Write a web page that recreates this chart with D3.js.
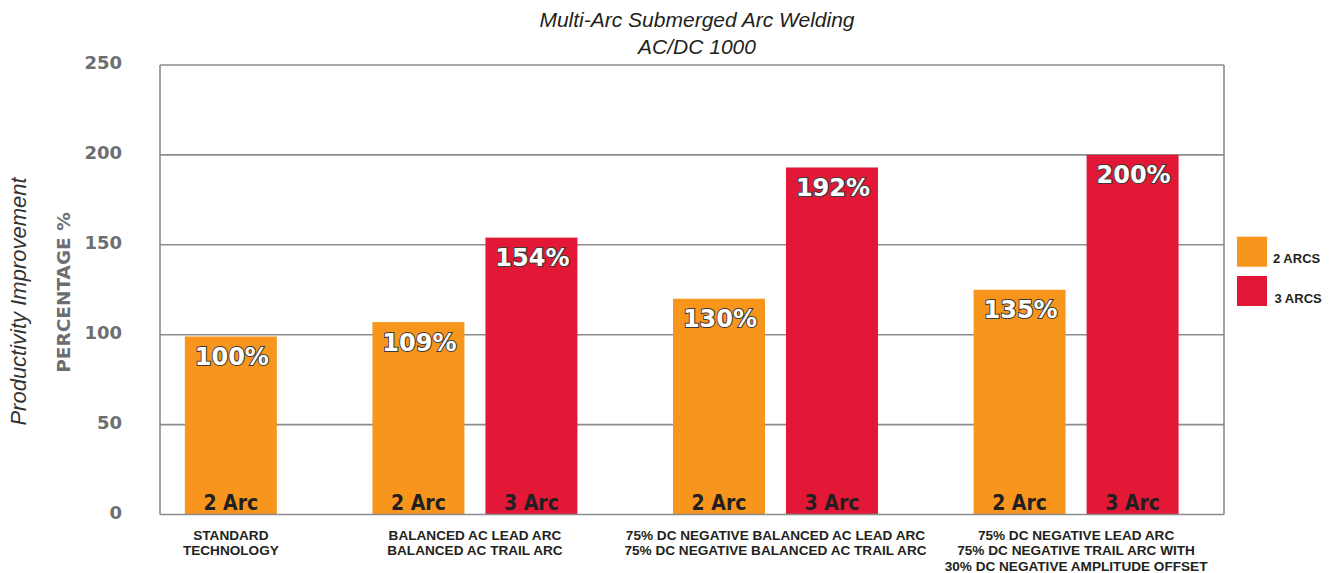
<!DOCTYPE html>
<html>
<head>
<meta charset="utf-8">
<script src="https://cdn.jsdelivr.net/npm/d3@7"></script>
<style>
  html, body { margin: 0; padding: 0; background: #fff; }
  svg { display: block; }
</style>
</head>
<body>
<svg id="chart" width="1333" height="573"></svg>
<script>
// ---- data ----
const titleLines = ["Multi-Arc Submerged Arc Welding", "AC/DC 1000"];
const categories = [
  ["STANDARD", "TECHNOLOGY"],
  ["BALANCED AC LEAD ARC", "BALANCED AC TRAIL ARC"],
  ["75% DC NEGATIVE BALANCED AC LEAD ARC", "75% DC NEGATIVE BALANCED AC TRAIL ARC"],
  ["75% DC NEGATIVE LEAD ARC", "75% DC NEGATIVE TRAIL ARC WITH", "30% DC NEGATIVE AMPLITUDE OFFSET"]
];
const seriesNames = ["2 ARCS", "3 ARCS"];
const barTags = ["2 Arc", "3 Arc"];
const twoArcValues = [99, 107, 120, 125];
const threeArcValues = [null, 154, 193, 200];
const twoArcLabels = ["100%", "109%", "130%", "135%"];
const threeArcLabels = [null, "154%", "192%", "200%"];
const yTicks = [0, 50, 100, 150, 200, 250];
const yTitle = "PERCENTAGE %";
const yOuterTitle = "Productivity Improvement";
const colors = ["#F7951D", "#E21836"];

// ---- layout ----
const svg = d3.select("#chart");
const plot = { left: 160, right: 1224, top: 65, bottom: 514.5 };
const groupGap = 0.66;     // extra slot units between groups
const barUnits = 0.814;    // bar width in slot units

const y = d3.scaleLinear().domain([0, 250]).range([plot.bottom, plot.top]);
const x = d3.scaleLinear().domain([-0.22, 9.196]).range([plot.left, plot.right]);

// build bars with slot positions
const bars = [];
const groups = [];
let cursor = 0;
categories.forEach((cat, gi) => {
  const vals = [twoArcValues[gi], threeArcValues[gi]];
  const labs = [twoArcLabels[gi], threeArcLabels[gi]];
  const gBars = [];
  vals.forEach((v, si) => {
    if (v == null) return;
    const b = { group: gi, series: si, value: v, label: labs[si], slot: cursor };
    bars.push(b); gBars.push(b);
    cursor += 1;
  });
  groups.push({ cat, start: gBars[0].slot, end: gBars[gBars.length - 1].slot + barUnits });
  cursor += groupGap;
});

// gridlines
svg.append("g").selectAll("line").data(yTicks.filter(t => t > 0)).join("line")
  .attr("x1", plot.left).attr("x2", plot.right)
  .attr("y1", d => y(d)).attr("y2", d => y(d))
  .attr("stroke", "#8c8c8c").attr("stroke-width", 1.6);

// frame: left, right
const frame = svg.append("g").attr("stroke", "#8c8c8c").attr("stroke-width", 1.6);
frame.append("line").attr("x1", plot.left).attr("x2", plot.left).attr("y1", y(250)).attr("y2", y(0));
frame.append("line").attr("x1", plot.right).attr("x2", plot.right).attr("y1", y(250)).attr("y2", y(0));

// bars
svg.append("g").selectAll("rect").data(bars).join("rect")
  .attr("x", d => x(d.slot))
  .attr("width", d => x(d.slot + barUnits) - x(d.slot))
  .attr("y", d => y(d.value))
  .attr("height", d => y(0) - y(d.value))
  .attr("fill", d => colors[d.series]);

// bottom axis line
svg.append("line").attr("x1", plot.left).attr("x2", plot.right)
  .attr("y1", y(0)).attr("y2", y(0))
  .attr("stroke", "#8c8c8c").attr("stroke-width", 1.6);

// value labels
svg.append("g").selectAll("text").data(bars).join("text")
  .attr("x", d => (x(d.slot) + x(d.slot + barUnits)) / 2 + 1)
  .attr("y", d => y(d.value) + 28.5)
  .attr("text-anchor", "middle")
  .attr("font-family", "'DejaVu Sans', sans-serif")
  .attr("font-weight", "bold")
  .attr("font-size", 24)
  .attr("fill", "#ffffff")
  .attr("stroke", "#3a3a3a")
  .attr("stroke-width", 2)
  .attr("paint-order", "stroke")
  .text(d => d.label);

// bar tags
svg.append("g").selectAll("text").data(bars).join("text")
  .attr("x", d => (x(d.slot) + x(d.slot + barUnits)) / 2)
  .attr("y", y(0) - 5)
  .attr("text-anchor", "middle")
  .attr("font-family", "'DejaVu Sans Condensed', 'DejaVu Sans', sans-serif")
  .attr("font-stretch", "condensed")
  .attr("font-weight", "bold")
  .attr("font-size", 21)
  .attr("fill", "#231f20")
  .text(d => barTags[d.series]);

// category labels
const catG = svg.append("g").selectAll("text").data(groups).join("text")
  .attr("text-anchor", "middle")
  .attr("font-family", "'Liberation Sans', Arial, sans-serif")
  .attr("font-weight", "bold")
  .attr("font-size", 13.6)
  .attr("fill", "#231f20");
catG.each(function (g) {
  const cx = (x(g.start) + x(g.end)) / 2;
  d3.select(this).selectAll("tspan").data(g.cat).join("tspan")
    .attr("x", cx)
    .attr("y", (d, i) => 539.5 + i * 15.6)
    .text(d => d);
});

// y tick labels
svg.append("g").selectAll("text").data(yTicks).join("text")
  .attr("x", 122)
  .attr("y", d => y(d) + 4)
  .attr("text-anchor", "end")
  .attr("font-family", "'DejaVu Sans', sans-serif")
  .attr("font-weight", "bold")
  .attr("font-size", 18)
  .attr("fill", "#6d6e71")
  .text(d => d);

// y titles
svg.append("text")
  .attr("transform", "translate(70,292.5) rotate(-90)")
  .attr("text-anchor", "middle")
  .attr("font-family", "'DejaVu Sans', sans-serif")
  .attr("font-weight", "bold")
  .attr("font-size", 18.5)
  .attr("fill", "#6d6e71")
  .text(yTitle);

svg.append("text")
  .attr("transform", "translate(26,301.5) rotate(-90)")
  .attr("text-anchor", "middle")
  .attr("font-family", "'Liberation Sans', Arial, sans-serif")
  .attr("font-style", "italic")
  .attr("font-size", 22)
  .attr("fill", "#333333")
  .text(yOuterTitle);

// title
svg.append("g").selectAll("text").data(titleLines).join("text")
  .attr("x", 697)
  .attr("y", (d, i) => 27 + i * 27)
  .attr("text-anchor", "middle")
  .attr("font-family", "'Liberation Sans', Arial, sans-serif")
  .attr("font-style", "italic")
  .attr("font-size", 21)
  .attr("fill", "#231f20")
  .text(d => d);

// legend
const legend = svg.append("g").selectAll("g").data(seriesNames).join("g")
  .attr("transform", (d, i) => `translate(1237,${236.7 + i * 39.3})`);
legend.append("rect").attr("width", 30).attr("height", 30).attr("fill", (d, i) => colors[i]);
legend.append("text")
  .attr("x", (d, i) => 36 + i * 1.5)
  .attr("y", 26.5)
  .attr("font-family", "'Liberation Sans', Arial, sans-serif")
  .attr("font-weight", "bold")
  .attr("font-size", 13)
  .attr("fill", "#231f20")
  .text(d => d);
</script>
</body>
</html>
